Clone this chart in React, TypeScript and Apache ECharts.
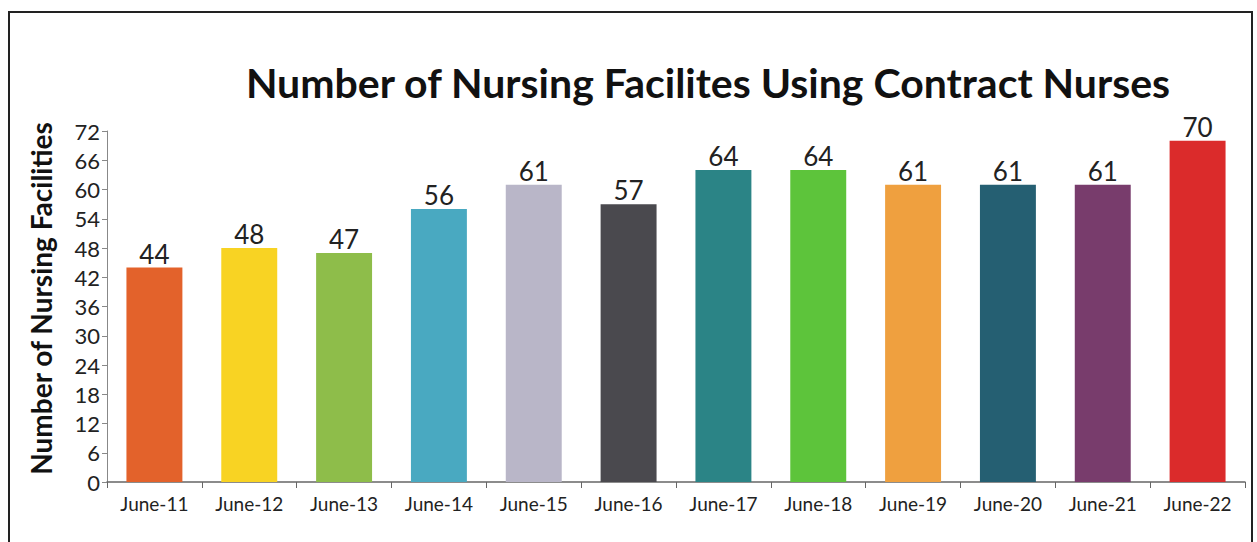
import React, { useEffect, useRef } from "react";
import * as echarts from "echarts";

const categories = ["June-11", "June-12", "June-13", "June-14", "June-15", "June-16", "June-17", "June-18", "June-19", "June-20", "June-21", "June-22"];
const values = [44, 48, 47, 56, 61, 57, 64, 64, 61, 61, 61, 70];
const barColors = ["#e3622b", "#f8d323", "#8ebd4a", "#49a9c1", "#b9b6c8", "#4a494e", "#2b8486", "#5dc43b", "#efa03f", "#255f72", "#783c6c", "#db2b2b"];
const chartTitle = "Number of Nursing Facilites Using Contract Nurses";
const yAxisTitle = "Number of Nursing Facilities";

export default function App() {
  const ref = useRef<HTMLDivElement>(null);
  useEffect(() => {
    if (!ref.current) return;
    const chart = echarts.init(ref.current, null, { renderer: "svg" });
    const font = "Lato, 'Open Sans', sans-serif";
    chart.setOption({
      animation: false,
      backgroundColor: "#ffffff",
      title: {
        text: chartTitle,
        left: 703,
        top: 57,
        textAlign: "center",
        textStyle: { fontFamily: font, fontWeight: "bold", fontSize: 41, color: "#111" },
      },
      graphic: [
        {
          type: "rect",
          shape: { x: 9, y: 12, width: 1243, height: 540 },
          style: { fill: "none", stroke: "#222", lineWidth: 2 },
        },
      ],
      grid: { left: 107, right: 12, top: 131, bottom: 60 },
      xAxis: {
        type: "category",
        data: categories,
        axisLine: { lineStyle: { color: "#666", width: 1.5 } },
        axisTick: { show: true, length: 6, lineStyle: { color: "#666" } },
        axisLabel: { fontFamily: font, fontSize: 19, color: "#222", margin: 12 },
      },
      yAxis: {
        type: "value",
        min: 0,
        max: 72,
        interval: 6,
        name: yAxisTitle,
        nameLocation: "middle",
        nameGap: 52,
        nameTextStyle: { fontFamily: font, fontWeight: "bold", fontSize: 28, color: "#111", padding: [0, 0, 0, 16] },
        axisLine: { show: true, lineStyle: { color: "#888" } },
        axisTick: { show: true, length: 5, lineStyle: { color: "#888" } },
        splitLine: { show: false },
        axisLabel: { fontFamily: font, fontSize: 22, color: "#222", margin: 7 },
      },
      series: [
        {
          type: "bar",
          data: values.map((v, i) => ({ value: v, itemStyle: { color: barColors[i] } })),
          barWidth: "59%",
          label: {
            show: true,
            position: "top",
            distance: 1,
            fontFamily: font,
            fontSize: 26,
            color: "#222",
          },
        },
      ],
    });
    return () => chart.dispose();
  }, []);
  return <div ref={ref} style={{ position: "fixed", left: 0, top: 0, width: 1257, height: 542 }} />;
}
